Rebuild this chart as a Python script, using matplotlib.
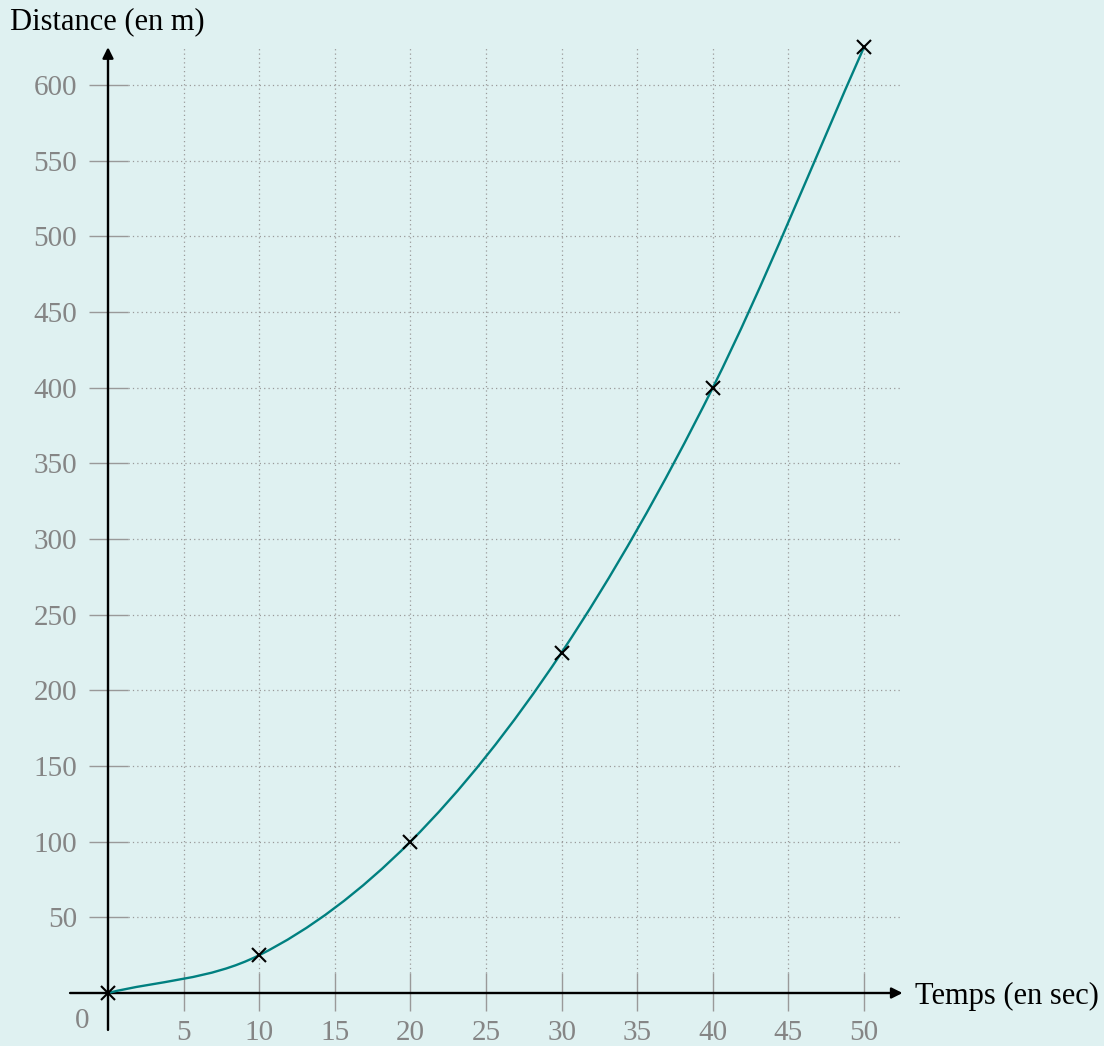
import numpy as np
import matplotlib.pyplot as plt
from matplotlib.path import Path
from matplotlib.patches import PathPatch

# data
temps = [0, 10, 20, 30, 40, 50]
distance = [0, 25, 100, 225, 400, 625]
x_ticks = [5, 10, 15, 20, 25, 30, 35, 40, 45, 50]
y_ticks = [50, 100, 150, 200, 250, 300, 350, 400, 450, 500, 550, 600]

bg = '#dff1f1'
grey = '#858585'
teal = '#008080'

plt.rcParams['font.family'] = ['Liberation Serif', 'DejaVu Serif']

fig = plt.figure(figsize=(11.04, 10.46), dpi=100, facecolor=bg)
ax = fig.add_axes([0, 0, 1, 1])
ax.set_facecolor(bg)
ax.axis('off')
ax.set_xlim(-7.143, 65.873)
ax.set_ylim(-35.02, 656.17)

# dotted grid
ax.vlines(x_ticks, 13.2, 625, colors='#9a9a9a', linestyles=(0, (1, 2.5)), lw=0.9)
ax.hlines(y_ticks, 1.32, 52.5, colors='#9a9a9a', linestyles=(0, (1, 2.5)), lw=0.9)

# tick marks
ax.vlines(x_ticks, -11.9, 13.2, colors='#999999', lw=1.0)
ax.hlines(y_ticks, -1.26, 1.32, colors='#999999', lw=1.0)

# axes with arrows
ax.annotate('', xy=(52.55, 0), xytext=(-2.51, 0),
            arrowprops=dict(arrowstyle='-|>', lw=1.7, color='black',
                            mutation_scale=16, shrinkA=0, shrinkB=0))
ax.annotate('', xy=(0, 625), xytext=(0, -24.4),
            arrowprops=dict(arrowstyle='-|>', lw=1.7, color='black',
                            mutation_scale=16, shrinkA=0, shrinkB=0))

# tick labels
for t in x_ticks:
    ax.text(t, -26.4, str(t), ha='center', va='center', fontsize=21, color=grey)
for t in y_ticks:
    ax.text(-2.05, t, str(t), ha='right', va='center_baseline', fontsize=21, color=grey)
ax.text(-1.72, -18.5, '0', ha='center', va='center', fontsize=21, color=grey)

ax.text(53.37, 0, 'Temps (en sec)', ha='left', va='center_baseline', fontsize=22)
ax.text(-6.48, 641.6, 'Distance (en m)', ha='left', va='center', fontsize=22)

# smooth curve through the points (Catmull-Rom as cubic Bezier)
pts = np.column_stack([temps, distance]).astype(float)
n = len(pts)
verts = [pts[0]]
codes = [Path.MOVETO]
for i in range(n - 1):
    p0 = pts[i - 1] if i > 0 else pts[i]
    p1 = pts[i]
    p2 = pts[i + 1]
    p3 = pts[i + 2] if i + 2 < n else pts[i + 1]
    if i == 0:
        c1 = p1 + (p2 - p1) / 3
    else:
        c1 = p1 + (p2 - p0) / 6
    if i + 2 >= n:
        c2 = p2 - (p2 - p1) / 3
    else:
        c2 = p2 - (p3 - p1) / 6
    verts += [c1, c2, p2]
    codes += [Path.CURVE4] * 3
ax.add_patch(PathPatch(Path(verts, codes), facecolor='none', edgecolor=teal, lw=1.7, zorder=3))

ax.plot(temps, distance, 'x', color='black', markersize=10, mew=1.5, zorder=4)

plt.savefig('out.png', dpi=100, facecolor=bg)
